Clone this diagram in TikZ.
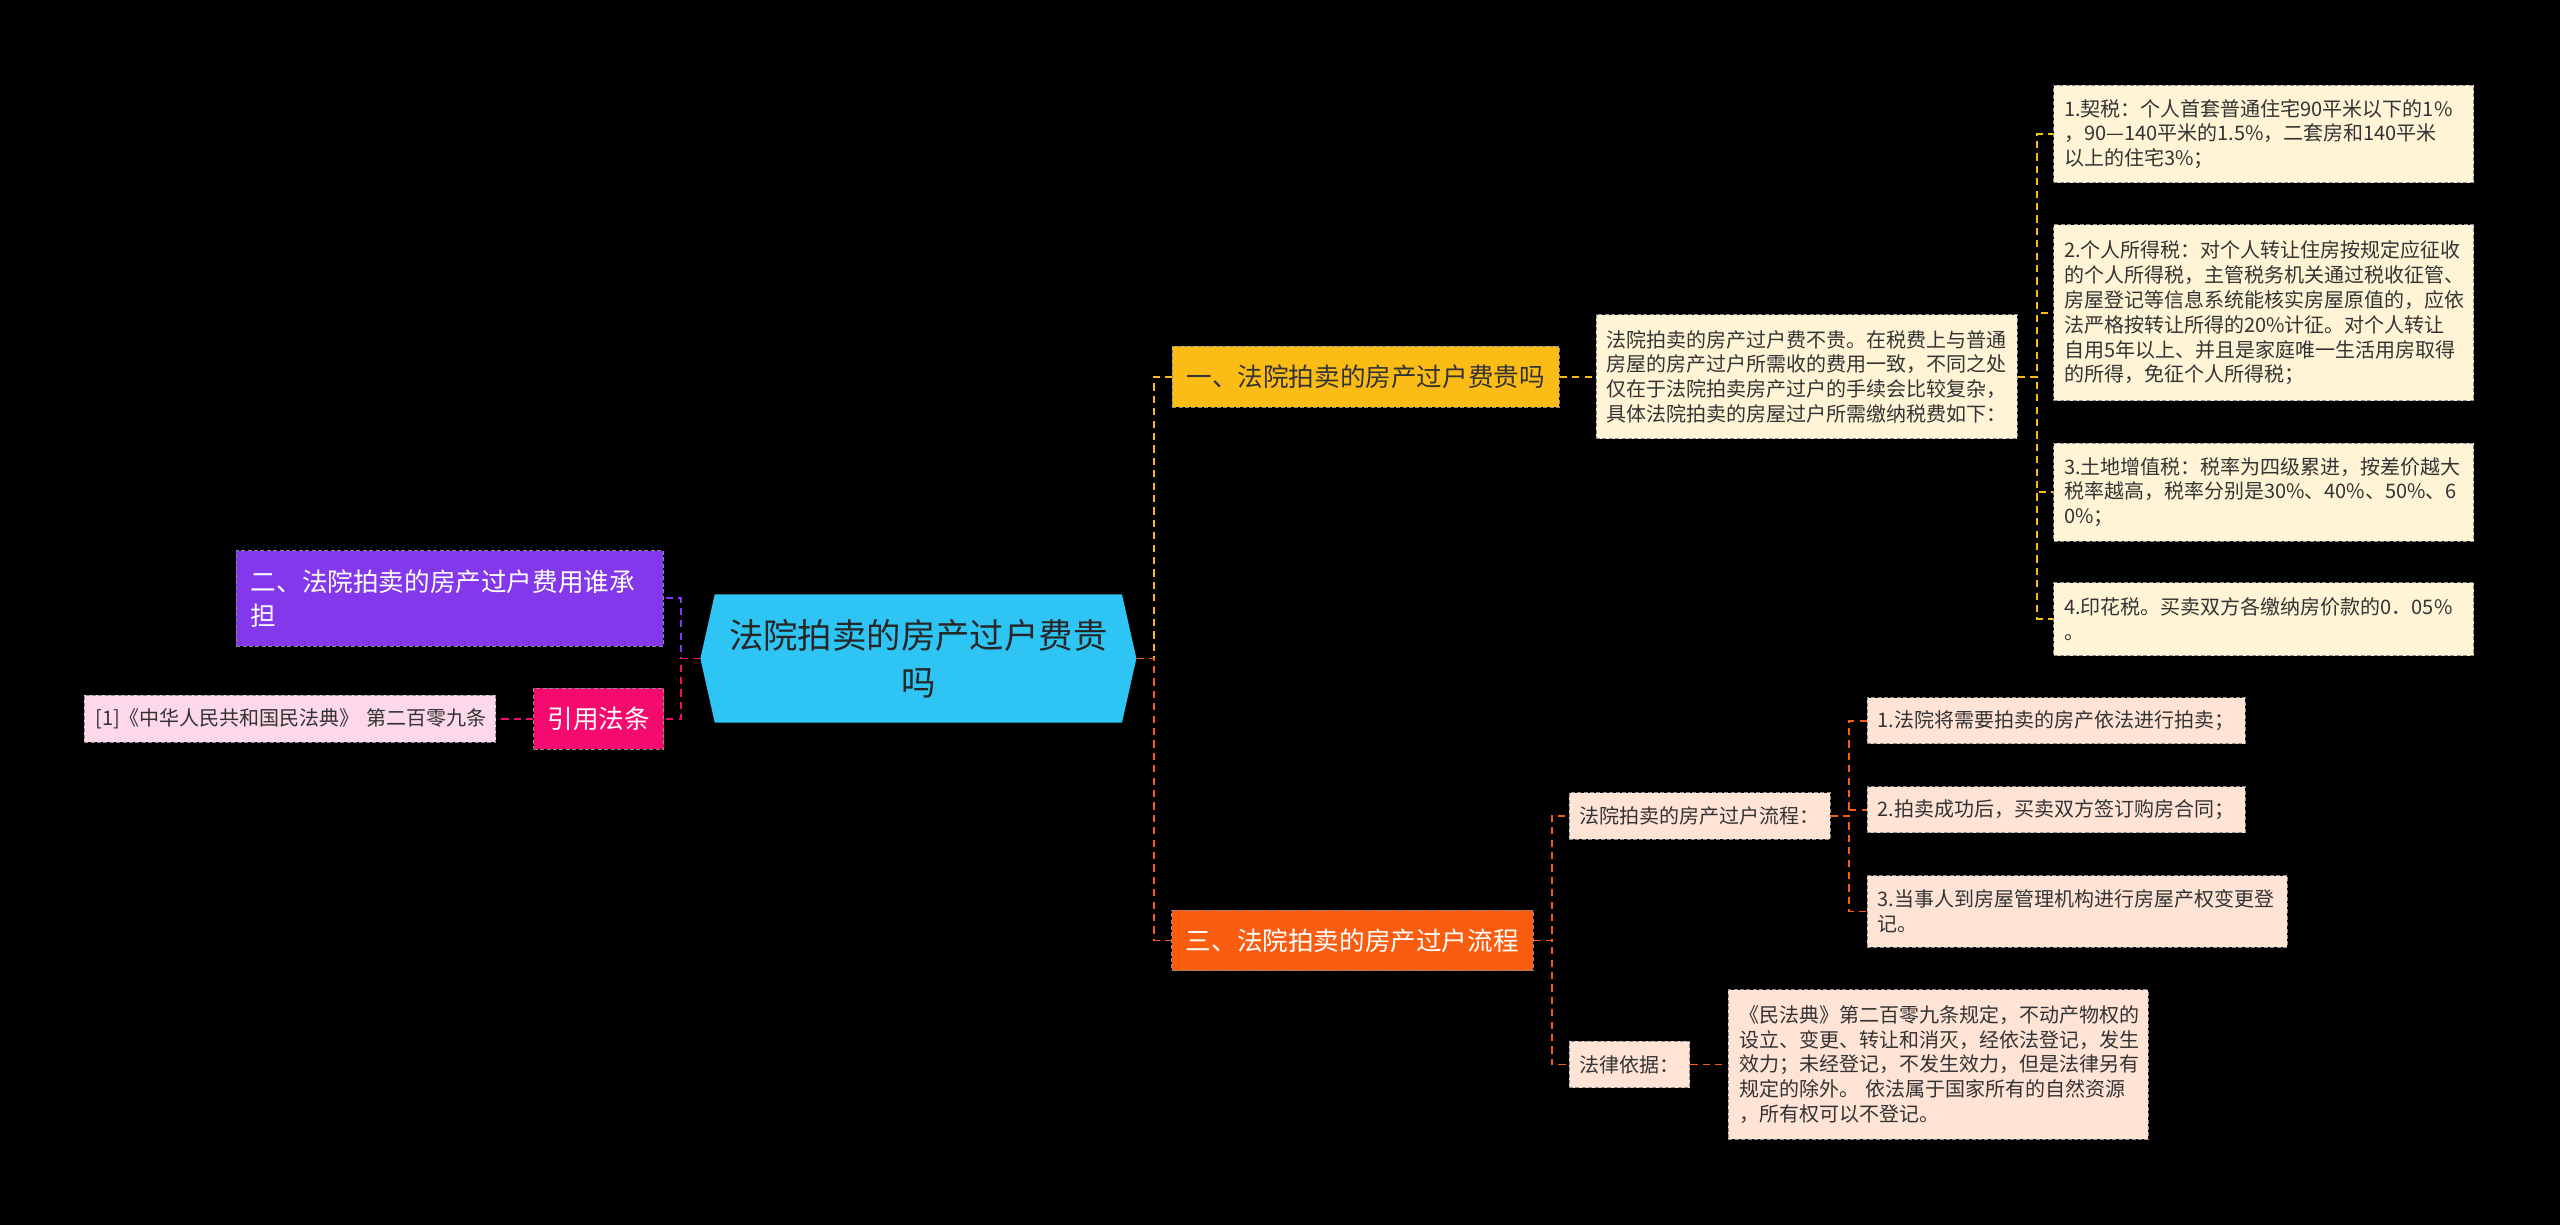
\documentclass[tikz,border=0pt]{standalone}
\usepackage{fontspec}
\setmainfont{Noto Sans CJK SC}
\usepackage{xcolor}
\usepackage{tikz}
\usetikzlibrary{positioning}

\definecolor{rootblue}{HTML}{2EC5F5}
\definecolor{yel}{HTML}{FCBC16}
\definecolor{org}{HTML}{FA5C10}
\definecolor{pur}{HTML}{8438EC}
\definecolor{mag}{HTML}{F50A6E}
\definecolor{cream}{HTML}{FFF5D6}
\definecolor{peach}{HTML}{FFE4D6}
\definecolor{lpink}{HTML}{FDD8E8}
\definecolor{txt}{HTML}{333333}

\begin{document}
\begin{tikzpicture}[x=0.8163pt, y=-0.8163pt,
    box/.style={rectangle, inner sep=0pt, draw=black!45, line width=0.5pt, dash pattern=on 2pt off 1.2pt},
    big/.style={box, font=\fontsize{12.8}{17}\selectfont, minimum height=30.4pt, align=center},
    leaf/.style={box, font=\fontsize{10}{12.4}\selectfont, text=txt, align=left},
    link/.style={line width=0.9pt, dash pattern=on 3.6pt off 2.6pt},
    ylink/.style={link, draw=yel},
    olink/.style={link, draw=org},
    plink/.style={link, draw=pur},
    mlink/.style={link, draw=mag},
    root/.style={rectangle, inner sep=0pt, minimum width=218pt, minimum height=64.2pt,
        align=center, font=\fontsize{17.2}{23.3}\selectfont, text=black!85,
        path picture={\fill[rootblue]
            ([xshift=7.2pt]path picture bounding box.north west) --
            ([xshift=-7.2pt]path picture bounding box.north east) --
            (path picture bounding box.east) --
            ([xshift=-7.2pt]path picture bounding box.south east) --
            ([xshift=7.2pt]path picture bounding box.south west) --
            (path picture bounding box.west) -- cycle;}}]

    % background
    \fill[black] (0,0) rectangle (1568,750);

    % Central node
    \node[root] (root) at (562.5,403.3) {法院拍卖的房产过户费贵\\吗};

    % Main branches
    \node[big, fill=yel, text=txt, minimum width=193.5pt] (b1) at (836.5,230.7) {一、法院拍卖的房产过户费贵吗};
    \node[big, fill=org, text=white, minimum width=180.8pt] (b3) at (828.3,576) {三、法院拍卖的房产过户流程};
    \node[big, fill=pur, text=white, minimum height=47.7pt, text width=198.8pt, inner xsep=7.4pt, align=left,
        font=\fontsize{12.8}{17}\selectfont] (b2) at (275.5,366.5) {二、法院拍卖的房产过户费用谁承\\担};
    \node[big, fill=mag, text=white, minimum width=64.8pt] (cite) at (366.7,440.2) {引用法条};
    \node[leaf, fill=lpink, inner xsep=5.5pt, text width=194.7pt, minimum height=23.3pt] (ref) [left=18.6pt of cite] {\mbox{[1]《中华人民共和国民法典》~第二百零九条}};

    % Fees
    \node[leaf, fill=cream, inner xsep=5.3pt, text width=200pt, minimum height=62pt] (c1) [right=17.9pt of b1]
        {法院拍卖的房产过户费不贵。在税费上与普通\\房屋的房产过户所需收的费用一致，不同之处\\仅在于法院拍卖房产过户的手续会比较复杂，\\具体法院拍卖的房屋过户所需缴纳税费如下：};
    \node[leaf, fill=cream, inner xsep=5.3pt, text width=199.4pt, minimum height=48.8pt] (it1) at (1386.4,82.1)
        {1.契税：个人首套普通住宅90平米以下的1\%\\，90—140平米的1.5\%，二套房和140平米\\以上的住宅3\%；};
    \node[leaf, fill=cream, inner xsep=5.3pt, text width=199.4pt, minimum height=88pt] (it2) at (1386.4,191.7)
        {2.个人所得税：对个人转让住房按规定应征收\\的个人所得税，主管税务机关通过税收征管、\\房屋登记等信息系统能核实房屋原值的，应依\\法严格按转让所得的20\%计征。对个人转让\\自用5年以上、并且是家庭唯一生活用房取得\\的所得，免征个人所得税；};
    \node[leaf, fill=cream, inner xsep=5.3pt, text width=199.4pt, minimum height=49pt] (it3) at (1386.4,301.4)
        {3.土地增值税：税率为四级累进，按差价越大\\税率越高，税率分别是30\%、40\%、50\%、6\\0\%；};
    \node[leaf, fill=cream, inner xsep=5.3pt, text width=199.4pt, minimum height=36.3pt] (it4) at (1386.4,379.3)
        {4.印花税。买卖双方各缴纳房价款的0．05\%\\。};

    % Process
    \node[leaf, fill=peach, inner xsep=5.3pt, text width=120pt, minimum height=23.3pt] (p1) at (1041,499.8) {法院拍卖的房产过户流程：};
    \node[leaf, fill=peach, inner xsep=5.3pt, text width=178.4pt, minimum height=22.9pt] (s1) at (1259.3,441.5) {1.法院将需要拍卖的房产依法进行拍卖；};
    \node[leaf, fill=peach, inner xsep=5.3pt, text width=178.4pt, minimum height=22.9pt] (s2) at (1259.3,495.9) {2.拍卖成功后，买卖双方签订购房合同；};
    \node[leaf, fill=peach, inner xsep=5.3pt, text width=199.6pt, minimum height=35.8pt] (s3) at (1272.3,558.3) {3.当事人到房屋管理机构进行房屋产权变更登\\记。};
    \node[leaf, fill=peach, inner xsep=5.3pt, text width=49.8pt, minimum height=23.1pt] (law) at (998,652) {法律依据：};
    \node[leaf, fill=peach, inner xsep=5.3pt, text width=199.2pt, minimum height=74.6pt] (lawtxt) [right=18.8pt of law]
        {《民法典》第二百零九条规定，不动产物权的\\设立、变更、转让和消灭，经依法登记，发生\\效力；未经登记，不发生效力，但是法律另有\\规定的除外。 依法属于国家所有的自然资源\\，所有权可以不登记。};

    % Edges
    \draw[ylink] (root.east) -- ++(10.6,0) |- (b1.west);
    \draw[olink] (root.east) -- ++(10.6,0) |- (b3.west);
    \draw[plink] (root.west) -- ++(-11.4,0) |- (b2.east);
    \draw[mlink] (root.west) -- ++(-11.4,0) |- (cite.east);
    \draw[mlink] (cite.west) -- (ref.east);
    \draw[ylink] (b1.east) -- (c1.west);
    \foreach \n in {it1,it2,it3,it4}
        \draw[ylink] (c1.east) -- ++(12,0) |- (\n.west);
    \draw[olink] (b3.east) -- ++(11,0) |- (p1.west);
    \draw[olink] (b3.east) -- ++(11,0) |- (law.west);
    \foreach \n in {s1,s2,s3}
        \draw[olink] (p1.east) -- ++(11.3,0) |- (\n.west);
    \draw[olink] (law.east) -- (lawtxt.west);
\end{tikzpicture}
\end{document}
